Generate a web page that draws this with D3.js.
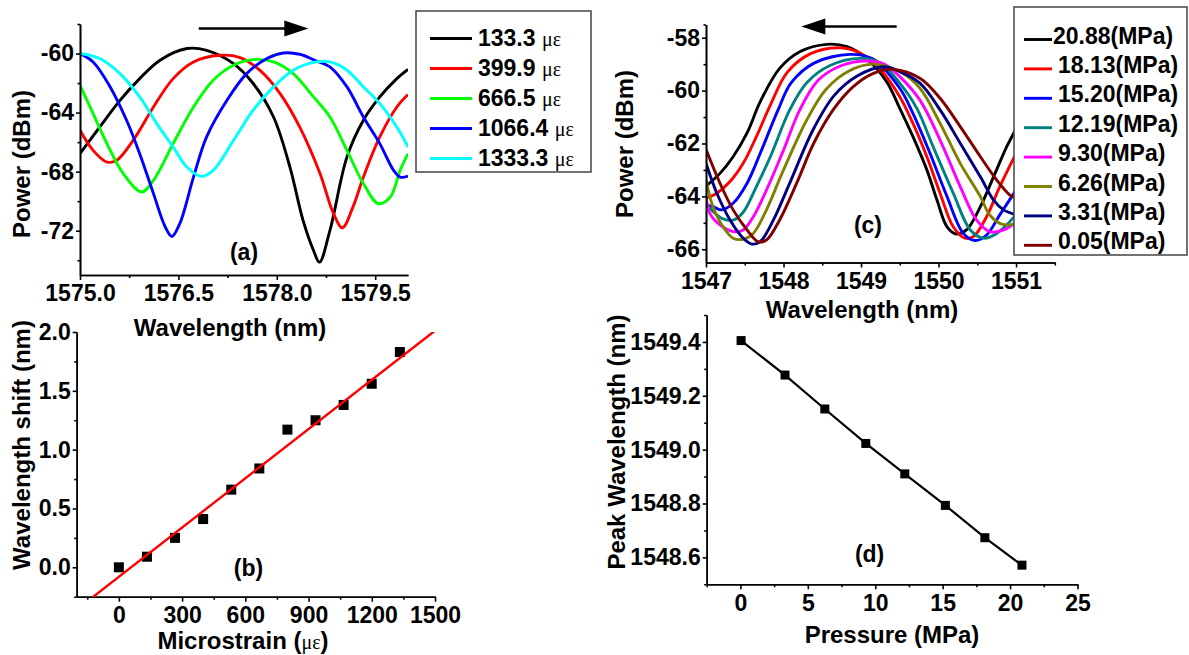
<!DOCTYPE html>
<html>
<head>
<meta charset="utf-8">
<script src="https://cdn.jsdelivr.net/npm/d3@7"></script>
<style>
    body { margin: 0; background: #ffffff; }
    svg text { font-family: "Liberation Sans", Arial, sans-serif; font-weight: bold; fill: #000; }
</style>
</head>
<body>
<svg id="figure"></svg>
<script>
const width = 1189, height = 655

// ---------- (a) spectra under strain: [wavelength nm, power dBm]
const strainLabels = ["133.3", "399.9", "666.5", "1066.4", "1333.3"]
const strainColors = ["#000000", "#ff0000", "#00ff00", "#0000ff", "#00ffff"]
const spec133 = [[1575.0,-66.78],[1575.3,-64.98],[1575.61,-63.17],[1575.91,-61.7],[1576.22,-60.45],[1576.63,-59.66],[1576.93,-59.78],[1577.34,-60.68],[1577.64,-62.03],[1577.95,-64.3],[1578.2,-67.69],[1578.4,-71.3],[1578.56,-73.34],[1578.65,-74.13],[1578.81,-71.98],[1579.07,-67.0],[1579.32,-64.52],[1579.57,-62.94],[1579.83,-61.7],[1580.0,-61.08]]
const spec400 = [[1575.0,-65.2],[1575.2,-66.56],[1575.41,-67.35],[1575.56,-67.23],[1575.81,-65.88],[1576.12,-63.62],[1576.42,-61.7],[1576.73,-60.57],[1577.13,-60.12],[1577.44,-60.27],[1577.74,-61.13],[1578.05,-62.71],[1578.35,-64.98],[1578.66,-68.14],[1578.86,-70.8],[1579.0,-71.8],[1579.16,-70.4],[1579.32,-68.37],[1579.57,-65.65],[1579.83,-63.62],[1580.0,-62.78]]
const spec667 = [[1575.0,-62.15],[1575.2,-64.07],[1575.41,-66.1],[1575.66,-68.14],[1575.94,-69.38],[1576.12,-68.59],[1576.42,-66.1],[1576.73,-63.62],[1577.03,-61.81],[1577.34,-60.79],[1577.64,-60.41],[1577.95,-60.57],[1578.25,-61.36],[1578.56,-62.94],[1578.81,-64.3],[1579.07,-66.56],[1579.32,-68.81],[1579.55,-70.17],[1579.73,-69.72],[1579.88,-67.91],[1580.0,-66.78]]
const spec1066 = [[1575.0,-60.0],[1575.2,-60.57],[1575.46,-62.26],[1575.71,-64.52],[1575.91,-66.78],[1576.12,-69.49],[1576.3,-71.75],[1576.4,-72.39],[1576.52,-71.53],[1576.73,-68.37],[1576.93,-65.65],[1577.24,-63.17],[1577.54,-61.36],[1577.85,-60.34],[1578.1,-59.96],[1578.35,-60.05],[1578.6,-60.5],[1578.81,-60.9],[1579.07,-62.26],[1579.32,-64.3],[1579.57,-66.1],[1579.78,-67.91],[1579.88,-68.37],[1580.0,-68.3]]
const spec1333 = [[1575.0,-60.0],[1575.3,-60.34],[1575.61,-61.36],[1575.91,-62.94],[1576.17,-64.75],[1576.42,-66.33],[1576.63,-67.69],[1576.85,-68.32],[1577.03,-67.91],[1577.34,-65.88],[1577.64,-63.84],[1577.95,-62.26],[1578.25,-61.13],[1578.6,-60.57],[1578.81,-60.57],[1579.07,-61.13],[1579.32,-62.26],[1579.57,-63.39],[1579.83,-64.98],[1580.0,-66.33]]
const strainSpectra = [spec133, spec400, spec667, spec1066, spec1333]
const aTicksX = [1575, 1576.5, 1578, 1579.5]
const aMinorX = [1575.75, 1577.25, 1578.75]
const aTicksY = [-72, -68, -64, -60]
const aMinorY = [-74, -70, -66, -62, -58]

// ---------- (b) wavelength shift vs microstrain
const strainSteps = [0, 133.3, 266.6, 399.9, 533.2, 666.5, 799.8, 933.1, 1066.4, 1199.7, 1333.3]
const shiftValues = [0, 0.09, 0.25, 0.41, 0.66, 0.84, 1.17, 1.25, 1.38, 1.56, 1.83]
const fitSlope = 0.001395
const fitIntercept = -0.081
const bTicksX = [0, 300, 600, 900, 1200, 1500]
const bMinorX = [-150, 150, 450, 750, 1050, 1350]
const bTicksY = [0, 0.5, 1.0, 1.5, 2.0]
const bMinorY = [-0.25, 0.25, 0.75, 1.25, 1.75]

// ---------- (c) spectra under pressure: [wavelength nm, power dBm]
const pressureLabels = ["20.88(MPa)", "18.13(MPa)", "15.20(MPa)", "12.19(MPa)", "9.30(MPa)", "6.26(MPa)", "3.31(MPa)", "0.05(MPa)"]
const pressureColors = ["#000000", "#ff0000", "#0000ff", "#008080", "#ff00ff", "#808000", "#000080", "#800000"]
const specP2088 = [[1547.0,-63.61],[1547.18,-63.13],[1547.35,-62.5],[1547.53,-61.6],[1547.7,-60.42],[1547.95,-59.16],[1548.21,-58.53],[1548.56,-58.25],[1548.82,-58.34],[1549.07,-58.78],[1549.33,-59.66],[1549.5,-60.67],[1549.67,-61.74],[1549.85,-63.0],[1549.98,-64.14],[1550.11,-65.15],[1550.23,-65.42],[1550.36,-65.27],[1550.54,-64.39],[1550.71,-63.26],[1550.88,-62.12],[1551.0,-61.45]]
const specP1813 = [[1547.0,-64.07],[1547.14,-63.88],[1547.31,-63.44],[1547.48,-62.75],[1547.65,-61.74],[1547.83,-60.55],[1548.05,-59.3],[1548.35,-58.6],[1548.73,-58.38],[1549.0,-58.6],[1549.25,-59.2],[1549.5,-60.23],[1549.67,-61.24],[1549.85,-62.5],[1550.02,-63.88],[1550.19,-65.15],[1550.34,-65.58],[1550.45,-65.52],[1550.62,-64.77],[1550.79,-63.63],[1551.0,-62.37]]
const specP1520 = [[1547.0,-64.33],[1547.09,-64.39],[1547.2,-64.51],[1547.35,-64.26],[1547.53,-63.5],[1547.7,-62.37],[1547.93,-60.73],[1548.1,-59.7],[1548.4,-58.95],[1548.86,-58.63],[1549.15,-58.8],[1549.5,-59.91],[1549.67,-60.86],[1549.89,-62.37],[1550.11,-64.01],[1550.32,-65.4],[1550.47,-65.67],[1550.62,-65.46],[1550.79,-64.7],[1551.0,-63.76]]
const specP1219 = [[1547.0,-64.26],[1547.1,-64.6],[1547.22,-64.85],[1547.35,-64.9],[1547.48,-64.6],[1547.65,-63.63],[1547.83,-62.5],[1548.08,-60.73],[1548.3,-59.7],[1548.6,-59.05],[1548.99,-58.78],[1549.25,-58.95],[1549.5,-59.72],[1549.72,-60.67],[1549.93,-62.12],[1550.19,-63.88],[1550.41,-65.27],[1550.58,-65.58],[1550.75,-65.4],[1551.0,-64.7]]
const specP930 = [[1547.0,-63.98],[1547.05,-64.64],[1547.18,-65.08],[1547.35,-65.33],[1547.48,-65.27],[1547.61,-64.77],[1547.78,-63.76],[1548.0,-62.25],[1548.21,-60.73],[1548.45,-59.6],[1548.75,-59.05],[1549.08,-58.88],[1549.3,-59.0],[1549.5,-59.47],[1549.76,-60.36],[1550.02,-61.87],[1550.28,-63.63],[1550.49,-64.89],[1550.66,-65.33],[1550.84,-65.27],[1551.0,-64.96]]
const specP626 = [[1547.0,-63.38],[1547.09,-64.39],[1547.22,-65.15],[1547.35,-65.58],[1547.48,-65.62],[1547.61,-65.4],[1547.78,-64.51],[1548.0,-63.0],[1548.3,-61.11],[1548.55,-59.95],[1548.85,-59.25],[1549.16,-59.0],[1549.5,-59.28],[1549.76,-59.91],[1550.02,-61.24],[1550.28,-62.75],[1550.54,-64.01],[1550.66,-64.7],[1550.79,-65.02],[1550.92,-65.08],[1551.0,-65.0]]
const specP331 = [[1547.0,-62.75],[1547.14,-63.88],[1547.31,-64.89],[1547.48,-65.58],[1547.59,-65.8],[1547.7,-65.71],[1547.87,-64.89],[1548.08,-63.5],[1548.38,-61.49],[1548.65,-60.2],[1548.95,-59.45],[1549.29,-59.1],[1549.5,-59.28],[1549.76,-59.72],[1550.02,-60.73],[1550.28,-61.99],[1550.54,-63.26],[1550.71,-64.14],[1550.84,-64.51],[1551.0,-64.7]]
const specP005 = [[1547.0,-62.22],[1547.18,-63.5],[1547.35,-64.51],[1547.53,-65.27],[1547.67,-65.71],[1547.78,-65.65],[1547.95,-64.89],[1548.17,-63.5],[1548.39,-61.99],[1548.64,-60.73],[1548.9,-59.85],[1549.16,-59.35],[1549.42,-59.2],[1549.76,-59.53],[1550.02,-60.29],[1550.28,-61.36],[1550.54,-62.5],[1550.75,-63.38],[1550.92,-63.95],[1551.0,-64.07]]
const pressureSpectra = [specP2088, specP1813, specP1520, specP1219, specP930, specP626, specP331, specP005]
const cTicksX = [1547, 1548, 1549, 1550, 1551]
const cMinorX = [1547.5, 1548.5, 1549.5, 1550.5, 1551.5]
const cTicksY = [-66, -64, -62, -60, -58]
const cMinorY = [-65, -63, -61, -59, -57.5]

// ---------- (d) peak wavelength vs pressure
const pressureSteps = [0.05, 3.31, 6.26, 9.30, 12.19, 15.20, 18.13, 20.88]
const peakWavelengths = [1549.405, 1549.277, 1549.151, 1549.023, 1548.910, 1548.793, 1548.673, 1548.571]
const dTicksX = [0, 5, 10, 15, 20, 25]
const dMinorX = [-2.5, 2.5, 7.5, 12.5, 17.5, 22.5]
const dTicksY = [1548.6, 1548.8, 1549.0, 1549.2, 1549.4]
const dMinorY = [1548.5, 1548.7, 1548.9, 1549.1, 1549.3, 1549.5]

const svg = d3.select("svg#figure")
    .attr("width", width)
    .attr("height", height)
    .attr("viewBox", [0, 0, width, height])
    .style("background", "#ffffff")

const xA = d3.scaleLinear().domain([1575, 1580]).range([80, 408])
const yA = d3.scaleLinear().domain([-75, -58]).range([275, 24])
const xB = d3.scaleLinear().domain([-200, 1500]).range([76.7, 435])
const yB = d3.scaleLinear().domain([-0.25, 2]).range([596.7, 332])
const xC = d3.scaleLinear().domain([1547, 1551.5]).range([706, 1054.8])
const yC = d3.scaleLinear().domain([-66.5, -57.5]).range([262.5, 24.5])
const xD = d3.scaleLinear().domain([-2.5, 25]).range([706.7, 1077.5])
const yD = d3.scaleLinear().domain([1548.5, 1549.5]).range([584.3, 315])

const fontTick = 23, fontTitle = 24
const curveWidth = 2.9

function styleAxis(g) {
    g.attr("font-size", fontTick).attr("font-family", null)
    g.selectAll("path, line").attr("stroke", "#000").attr("stroke-width", 1.6)
}

function drawAxes(x, y, o) {
    const x0 = x.range()[0], y0 = y.range()[0]
    const g = svg.append("g")
    g.append("g").attr("transform", `translate(0,${y0})`)
        .call(d3.axisBottom(x).tickValues(o.xMinor).tickSize(3).tickSizeOuter(0).tickFormat(""))
        .call(styleAxis)
    g.append("g").attr("transform", `translate(0,${y0})`)
        .call(d3.axisBottom(x).tickValues(o.xMajor).tickSize(5).tickSizeOuter(0).tickPadding(5).tickFormat(o.xFmt))
        .call(styleAxis)
    g.append("g").attr("transform", `translate(${x0},0)`)
        .call(d3.axisLeft(y).tickValues(o.yMinor).tickSize(2.5).tickSizeOuter(0).tickFormat(""))
        .call(styleAxis)
    g.append("g").attr("transform", `translate(${x0},0)`)
        .call(d3.axisLeft(y).tickValues(o.yMajor).tickSize(4).tickSizeOuter(0).tickPadding(2).tickFormat(o.yFmt))
        .call(styleAxis)
}

function clipFor(id, x, y) {
    svg.append("clipPath").attr("id", id)
        .append("rect")
        .attr("x", x.range()[0]).attr("y", y.range()[1])
        .attr("width", x.range()[1] - x.range()[0])
        .attr("height", y.range()[0] - y.range()[1])
    return `url(#${id})`
}

function title(text, cx, cy, rotate) {
    return svg.append("text")
        .attr("transform", `translate(${cx},${cy})` + (rotate ? " rotate(-90)" : ""))
        .attr("text-anchor", "middle")
        .attr("font-size", fontTitle)
        .text(text)
}

function arrow(x1, x2, yy) {
    const dir = Math.sign(x2 - x1)
    svg.append("line")
        .attr("x1", x1).attr("x2", x2 - dir * 20).attr("y1", yy).attr("y2", yy)
        .attr("stroke", "#000").attr("stroke-width", 2.5)
    svg.append("path")
        .attr("d", `M${x2},${yy}L${x2 - dir * 24},${yy - 8}L${x2 - dir * 24},${yy + 8}Z`)
        .attr("fill", "#000")
}

const hyphen = d => String(d)

// ================= (a)
const lineA = d3.line().x(d => xA(d[0])).y(d => yA(d[1])).curve(d3.curveCatmullRom.alpha(0.5))
svg.append("g").attr("clip-path", clipFor("clipA", xA, yA))
    .selectAll("path.spec")
    .data(strainSpectra)
    .join("path").attr("class", "spec")
    .attr("d", lineA)
    .attr("fill", "none")
    .attr("stroke", (d, i) => strainColors[i])
    .attr("stroke-width", curveWidth)
    .attr("stroke-linejoin", "round")

drawAxes(xA, yA, { xMajor: aTicksX, xMinor: aMinorX, yMajor: aTicksY, yMinor: aMinorY,
    xFmt: d3.format(".1f"), yFmt: hyphen })
title("Power (dBm)", 30, 164, true)
title("Wavelength (nm)", 230, 336)
svg.append("text").attr("x", xA(1577.5)).attr("y", yA(-74.0))
    .attr("text-anchor", "middle").attr("font-size", fontTick).text("(a)")
arrow(xA(1576.81), xA(1578.48), yA(-58.3))

const legA = svg.append("g")
legA.append("rect")
    .attr("x", 416).attr("y", 11).attr("width", 175).attr("height", 161)
    .attr("fill", "#fff").attr("stroke", "#444").attr("stroke-width", 1.5)
const legAItems = legA.selectAll("g.item")
    .data(strainLabels)
    .join("g").attr("class", "item")
    .attr("transform", (d, i) => `translate(0,${38.5 + i * 30})`)
legAItems.append("line")
    .attr("x1", 430).attr("x2", 472)
    .attr("stroke", (d, i) => strainColors[i]).attr("stroke-width", curveWidth)
const legAText = legAItems.append("text")
    .attr("x", 478).attr("y", 7).attr("font-size", fontTick)
legAText.append("tspan").text(d => d + " ")
legAText.append("tspan")
    .style("font-family", "'Liberation Serif', serif").style("font-weight", "normal")
    .attr("font-size", 20).text("\u03bc\u03b5")

// ================= (b)
drawAxes(xB, yB, { xMajor: bTicksX, xMinor: bMinorX, yMajor: bTicksY, yMinor: bMinorY,
    xFmt: hyphen, yFmt: d3.format(".1f") })

svg.selectAll("rect.pt-b")
    .data(strainSteps)
    .join("rect").attr("class", "pt-b")
    .attr("x", d => xB(d) - 5)
    .attr("y", (d, i) => yB(shiftValues[i]) - 5)
    .attr("width", 10).attr("height", 10)
    .attr("fill", "#000")

const fitX = xB.domain()
svg.append("line")
    .attr("clip-path", clipFor("clipB", xB, yB))
    .attr("x1", xB(fitX[0])).attr("y1", yB(fitSlope * fitX[0] + fitIntercept))
    .attr("x2", xB(fitX[1])).attr("y2", yB(fitSlope * fitX[1] + fitIntercept))
    .attr("stroke", "#ff0000").attr("stroke-width", 2.4)

title("Wavelength shift (nm)", 30, 445, true)
const tB = title("", 243, 649)
tB.append("tspan").text("Microstrain (")
tB.append("tspan")
    .style("font-family", "'Liberation Serif', serif").style("font-weight", "normal")
    .attr("font-size", 20).text("\u03bc\u03b5")
tB.append("tspan").text(")")
svg.append("text").attr("x", xB(615)).attr("y", yB(-0.07))
    .attr("text-anchor", "middle").attr("font-size", fontTick).text("(b)")

// ================= (c)
const lineC = d3.line().x(d => xC(d[0])).y(d => yC(d[1])).curve(d3.curveCatmullRom.alpha(0.5))
svg.append("g").attr("clip-path", clipFor("clipC", xC, yC))
    .selectAll("path.spec")
    .data(pressureSpectra)
    .join("path").attr("class", "spec")
    .attr("d", lineC)
    .attr("fill", "none")
    .attr("stroke", (d, i) => pressureColors[i])
    .attr("stroke-width", curveWidth)
    .attr("stroke-linejoin", "round")

drawAxes(xC, yC, { xMajor: cTicksX, xMinor: cMinorX, yMajor: cTicksY, yMinor: cMinorY,
    xFmt: hyphen, yFmt: hyphen })
title("Power (dBm)", 633, 144, true)
title("Wavelength (nm)", 862, 318)
svg.append("text").attr("x", xC(1549.09)).attr("y", yC(-65.38))
    .attr("text-anchor", "middle").attr("font-size", fontTick).text("(c)")
arrow(xC(1549.46), xC(1548.23), yC(-57.58))

const legC = svg.append("g")
legC.append("rect")
    .attr("x", 1014).attr("y", 7).attr("width", 173).attr("height", 248)
    .attr("fill", "#fff").attr("stroke", "#444").attr("stroke-width", 1.5)
const legCItems = legC.selectAll("g.item")
    .data(pressureLabels)
    .join("g").attr("class", "item")
    .attr("transform", (d, i) => `translate(0,${39.5 + i * 29.4})`)
legCItems.append("line")
    .attr("x1", 1024).attr("x2", 1052)
    .attr("stroke", (d, i) => pressureColors[i]).attr("stroke-width", curveWidth)
legCItems.append("text")
    .attr("x", (d, i) => i === 0 ? 1053 : 1058).attr("y", 4)
    .attr("font-size", fontTick)
    .text(d => d)

// ================= (d)
drawAxes(xD, yD, { xMajor: dTicksX, xMinor: dMinorX, yMajor: dTicksY, yMinor: dMinorY,
    xFmt: hyphen, yFmt: d3.format(".1f") })

const pointsD = pressureSteps.map((p, i) => [p, peakWavelengths[i]])
svg.append("path")
    .datum(pointsD)
    .attr("d", d3.line().x(d => xD(d[0])).y(d => yD(d[1])))
    .attr("fill", "none").attr("stroke", "#000").attr("stroke-width", 2.2)
svg.selectAll("rect.pt-d")
    .data(pointsD)
    .join("rect").attr("class", "pt-d")
    .attr("x", d => xD(d[0]) - 4.5)
    .attr("y", d => yD(d[1]) - 4.5)
    .attr("width", 9).attr("height", 9)
    .attr("fill", "#000")

title("Peak Wavelength (nm)", 625, 442, true)
title("Pressure (MPa)", 892, 643)
svg.append("text").attr("x", xD(9.58)).attr("y", yD(1548.583))
    .attr("text-anchor", "middle").attr("font-size", fontTick).text("(d)")
</script>
</body>
</html>
